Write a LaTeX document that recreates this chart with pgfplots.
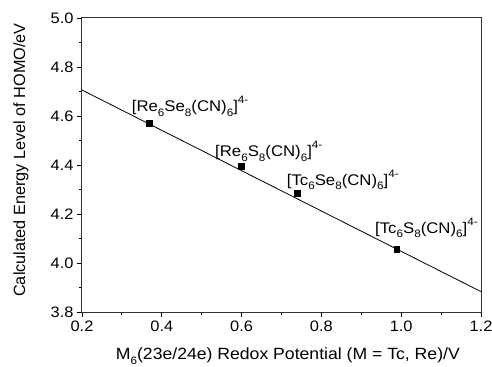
\documentclass[border=0pt]{standalone}
\usepackage{fontspec}
\setmainfont{Liberation Sans}[FakeStretch=1.085]
\newfontfamily\vfont{Liberation Sans}
\usepackage{pgfplots}
\pgfplotsset{compat=1.18}
\newcommand\sub[1]{\raisebox{-4.5bp}{\fontsize{10.8}{11}\selectfont #1}}
\newcommand\sups[1]{\raisebox{8bp}{\fontsize{10.8}{11}\selectfont #1}}
\begin{document}
\begin{tikzpicture}
\path[use as bounding box] (-82bp,-55bp) rectangle (410bp,312bp);
\begin{axis}[
  scale only axis,
  width=399bp, height=294bp,
  xmin=0.2, xmax=1.2, ymin=3.8, ymax=5.0,
  xtick={0.2,0.4,...,1.21}, ytick={3.8,4.0,...,5.01},
  minor tick num=1,
  tick align=outside, tick pos=left,
  major tick length=5bp, minor tick length=3bp,
  axis line style={line width=1bp, black!80},
  every tick/.style={black, line width=0.8bp},
  /pgf/number format/assume math mode=true,
  /pgf/number format/.cd, fixed, fixed zerofill, precision=1, /pgfplots/.cd,
  ticklabel style={font=\fontsize{15.2}{18}\selectfont},
  xlabel={M\sub{6}(23e/24e) Redox Potential (M = Tc, Re)/V},
  ylabel={\vfont Calculated Energy Level of HOMO/eV},
  label style={font=\fontsize{16.3}{19}\selectfont},
  xlabel style={at={(axis description cs:0.516,-0.163)}, anchor=base},
  ylabel style={at={(axis description cs:-0.153,0.517)}, anchor=center},
  clip=false,
]
\addplot[black, line width=0.8bp] coordinates {(0.2,4.706) (1.2,3.883)};
\addplot[only marks, mark=square*, mark size=2.8bp, black] coordinates {
  (0.3687,4.570) (0.5985,4.396) (0.7396,4.284) (0.9887,4.057)};
\begin{scope}[every node/.style={anchor=base west, inner sep=0pt, font=\fontsize{15.5}{18}\selectfont}]
\node[xshift=-17.6bp, yshift=11.6bp] at (axis cs:0.3687,4.570) {[Re\sub{6}Se\sub{8}(CN)\sub{6}]\sups{4-}};
\node[xshift=-26bp, yshift=9.3bp] at (axis cs:0.5985,4.396) {[Re\sub{6}S\sub{8}(CN)\sub{6}]\sups{4-}};
\node[xshift=-10.6bp, yshift=8.3bp] at (axis cs:0.7396,4.284) {[Tc\sub{6}Se\sub{8}(CN)\sub{6}]\sups{4-}};
\node[xshift=-21.7bp, yshift=16bp] at (axis cs:0.9887,4.057) {[Tc\sub{6}S\sub{8}(CN)\sub{6}]\sups{4-}};
\end{scope}
\end{axis}
\end{tikzpicture}
\end{document}
